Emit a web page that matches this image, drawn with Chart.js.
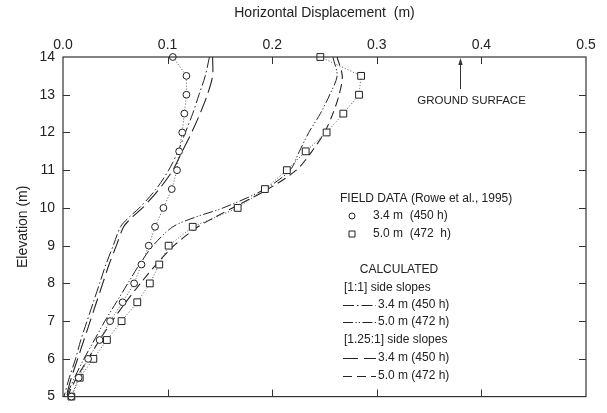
<!DOCTYPE html>
<html>
<head>
<meta charset="utf-8">
<script src="https://cdn.jsdelivr.net/npm/chart.js@4"></script>
<style>
  html, body { margin: 0; padding: 0; background: #fff; }
  #wrap { width: 607px; height: 413px; }
</style>
</head>
<body>
<div id="wrap"><canvas id="c" width="607" height="413"></canvas></div>
<script>
// Field measurements (elevation in m, horizontal displacement in m)
const fieldElev = [14, 13.5, 13, 12.5, 12, 11.5, 11, 10.5, 10, 9.5, 9, 8.5, 8, 7.5, 7, 6.5, 6, 5.5, 5];
const field34 = [0.105, 0.118, 0.118, 0.116, 0.114, 0.111, 0.109, 0.104, 0.096, 0.088, 0.082, 0.075, 0.068, 0.057, 0.045, 0.035, 0.024, 0.015, 0.008];
const field50 = [0.246, 0.285, 0.283, 0.268, 0.252, 0.232, 0.214, 0.193, 0.167, 0.124, 0.101, 0.092, 0.083, 0.071, 0.056, 0.042, 0.029, 0.016, 0.008];

// Calculated profiles
const calcElev = [14, 13.5, 13, 12.5, 12, 11.5, 11, 10.5, 10, 9.75, 9.5, 9, 8.5, 8, 7.5, 7, 6.5, 6, 5.5, 5];
const calc11_34 = [0.140, 0.136, 0.130, 0.124, 0.117, 0.110, 0.101, 0.089, 0.073, 0.063, 0.055, 0.048, 0.041, 0.035, 0.029, 0.023, 0.017, 0.012, 0.006, 0.001];
const calc11_50 = [0.258, 0.262, 0.255, 0.246, 0.235, 0.226, 0.217, 0.193, 0.153, 0.126, 0.105, 0.086, 0.073, 0.062, 0.051, 0.040, 0.030, 0.020, 0.011, 0.003];
const calc125_34 = [0.143, 0.143, 0.138, 0.131, 0.123, 0.114, 0.105, 0.092, 0.076, 0.066, 0.058, 0.051, 0.044, 0.038, 0.032, 0.026, 0.020, 0.014, 0.008, 0.003];
const calc125_50 = [0.262, 0.267, 0.264, 0.258, 0.250, 0.238, 0.223, 0.196, 0.162, 0.145, 0.129, 0.106, 0.089, 0.074, 0.060, 0.047, 0.035, 0.024, 0.013, 0.004];

// Axis settings
const xTitle = 'Horizontal Displacement  (m)';
const yTitle = 'Elevation (m)';
const xMin = 0, xMax = 0.5, xStep = 0.1;
const yMin = 5, yMax = 14, yStep = 1;

// Ground surface marker
const groundX = 0.38;
const groundLabel = 'GROUND SURFACE';

// Legend text
const fieldHeader = 'FIELD DATA (Rowe et al., 1995)';
const fieldLabels = ['3.4 m  (450 h)', '5.0 m  (472  h)'];
const calcHeader = 'CALCULATED';
const groupLabels = ['[1:1] side slopes', '[1.25:1] side slopes'];
const calcLabels = ['3.4 m (450 h)', '5.0 m (472 h)'];

const FONT = "'Liberation Sans', Arial, Helvetica, sans-serif";
const INK = '#222';

const pts = (xs, ys) => xs.map((v, i) => ({ x: v, y: ys[i] }));

const datasets = [
  { label: fieldLabels[0], data: pts(field34, fieldElev), showLine: true, borderColor: '#555', borderWidth: 1, borderDash: [1, 2],
    pointStyle: 'circle', pointRadius: 3.4, pointBorderWidth: 1, pointBorderColor: INK, pointBackgroundColor: '#fff', clip: false, order: 0 },
  { label: fieldLabels[1], data: pts(field50, fieldElev), showLine: true, borderColor: '#555', borderWidth: 1, borderDash: [1, 2],
    pointStyle: 'rect', pointRadius: 4.8, pointBorderWidth: 1, pointBorderColor: INK, pointBackgroundColor: '#fff', clip: false, order: 0 },
  { label: '1:1 ' + calcLabels[0], data: pts(calc11_34, calcElev), showLine: true, borderColor: INK, borderWidth: 1,
    borderDash: [11, 3, 1.5, 3], pointRadius: 0, tension: 0.3, order: 1 },
  { label: '1:1 ' + calcLabels[1], data: pts(calc11_50, calcElev), showLine: true, borderColor: INK, borderWidth: 1,
    borderDash: [10, 2.5, 1.2, 2, 1.2, 2.5], pointRadius: 0, tension: 0.3, order: 1 },
  { label: '1.25:1 ' + calcLabels[0], data: pts(calc125_34, calcElev), showLine: true, borderColor: INK, borderWidth: 1.1,
    borderDash: [15, 6], pointRadius: 0, tension: 0.3, order: 1 },
  { label: '1.25:1 ' + calcLabels[1], data: pts(calc125_50, calcElev), showLine: true, borderColor: INK, borderWidth: 1.1,
    borderDash: [9, 5], pointRadius: 0, tension: 0.3, order: 1 }
];

// Frame with inward ticks on all four sides, ground marker and legend block
const framePlugin = {
  id: 'frame',
  afterDraw(chart) {
    const { ctx, chartArea: a, scales: { x, y } } = chart;
    ctx.save();
    ctx.strokeStyle = '#333';
    ctx.lineWidth = 1.2;
    ctx.strokeRect(a.left, a.top, a.right - a.left, a.bottom - a.top);

    const L = 7;
    ctx.beginPath();
    x.ticks.forEach(t => {
      if (t.value <= xMin + 1e-9 || t.value >= xMax - 1e-9) return;
      const px = Math.round(x.getPixelForValue(t.value)) + 0.5;
      ctx.moveTo(px, a.top); ctx.lineTo(px, a.top + L);
      ctx.moveTo(px, a.bottom); ctx.lineTo(px, a.bottom - L);
    });
    y.ticks.forEach(t => {
      if (t.value <= yMin || t.value >= yMax) return;
      const py = Math.round(y.getPixelForValue(t.value)) + 0.5;
      ctx.moveTo(a.left, py); ctx.lineTo(a.left + L, py);
      ctx.moveTo(a.right, py); ctx.lineTo(a.right - L, py);
    });
    ctx.lineWidth = 1;
    ctx.stroke();

    // ground surface arrow
    const gx = Math.round(x.getPixelForValue(groundX)) + 0.5;
    const gTop = y.getPixelForValue(yMax) + 1;
    const gBot = y.getPixelForValue(13.15);
    ctx.beginPath();
    ctx.moveTo(gx, gBot); ctx.lineTo(gx, gTop + 4);
    ctx.stroke();
    ctx.beginPath();
    ctx.moveTo(gx, gTop); ctx.lineTo(gx - 2.2, gTop + 7); ctx.lineTo(gx + 2.2, gTop + 7); ctx.closePath();
    ctx.fillStyle = '#333';
    ctx.fill();

    ctx.fillStyle = INK;
    ctx.textBaseline = 'middle';
    ctx.font = '11.5px ' + FONT;
    ctx.textAlign = 'center';
    ctx.fillText(groundLabel, gx + 11, 101);

    // legend
    ctx.font = '12px ' + FONT;
    ctx.textAlign = 'left';
    ctx.fillText(fieldHeader, 340, 199);
    const ds = chart.data.datasets;
    const symX = 352, txtX = 373;
    [216, 234].forEach((ly, i) => {
      const d = ds[i];
      ctx.fillStyle = '#fff';
      ctx.strokeStyle = INK;
      ctx.lineWidth = 1;
      ctx.beginPath();
      if (d.pointStyle === 'circle') ctx.arc(symX, ly, 3, 0, Math.PI * 2);
      else ctx.rect(symX - 3, ly - 3, 6, 6);
      ctx.fill(); ctx.stroke();
      ctx.fillStyle = INK;
      ctx.fillText(fieldLabels[i], txtX, ly);
    });

    ctx.textAlign = 'center';
    ctx.fillText(calcHeader, 399, 270);
    ctx.textAlign = 'left';
    const rows = [
      { head: groupLabels[0], y: 288, lines: [{ d: ds[2], y: 305 }, { d: ds[3], y: 322 }] },
      { head: groupLabels[1], y: 340, lines: [{ d: ds[4], y: 358 }, { d: ds[5], y: 376 }] }
    ];
    rows.forEach(r => {
      ctx.fillText(r.head, 344, r.y);
      r.lines.forEach((l, i) => {
        ctx.save();
        ctx.strokeStyle = l.d.borderColor;
        ctx.lineWidth = l.d.borderWidth;
        ctx.setLineDash(l.d.borderDash);
        ctx.beginPath();
        ctx.moveTo(343, l.y + 0.5); ctx.lineTo(376, l.y + 0.5);
        ctx.stroke();
        ctx.restore();
        ctx.fillText(calcLabels[i], 378, l.y);
      });
    });
    ctx.restore();
  }
};

new Chart(document.getElementById('c'), {
  type: 'scatter',
  data: { datasets },
  options: {
    responsive: false,
    animation: false,
    devicePixelRatio: 1,
    layout: { padding: { left: 0, right: 21, top: 0, bottom: 6 } },
    plugins: { legend: { display: false }, tooltip: { enabled: false } },
    scales: {
      x: {
        type: 'linear', position: 'top', min: xMin, max: xMax,
        ticks: { stepSize: xStep, autoSkip: false, maxRotation: 0, padding: 3, color: INK,
                 font: { size: 14, family: FONT }, callback: v => Number(v).toFixed(1) },
        grid: { display: false, drawTicks: false },
        border: { display: false },
        title: { display: true, text: xTitle, color: INK, font: { size: 14, family: FONT }, padding: { top: 5, bottom: 0 } },
        afterFit(s) { s.height = 57; }
      },
      y: {
        type: 'linear', position: 'left', min: yMin, max: yMax,
        ticks: { stepSize: yStep, autoSkip: false, padding: 8, color: INK, font: { size: 14, family: FONT } },
        grid: { display: false, drawTicks: false },
        border: { display: false },
        title: { display: true, text: yTitle, color: INK, font: { size: 14, family: FONT }, padding: { top: 15, bottom: 0 } },
        afterFit(s) { s.width = 63; }
      }
    }
  },
  plugins: [framePlugin]
});
</script>
</body>
</html>
